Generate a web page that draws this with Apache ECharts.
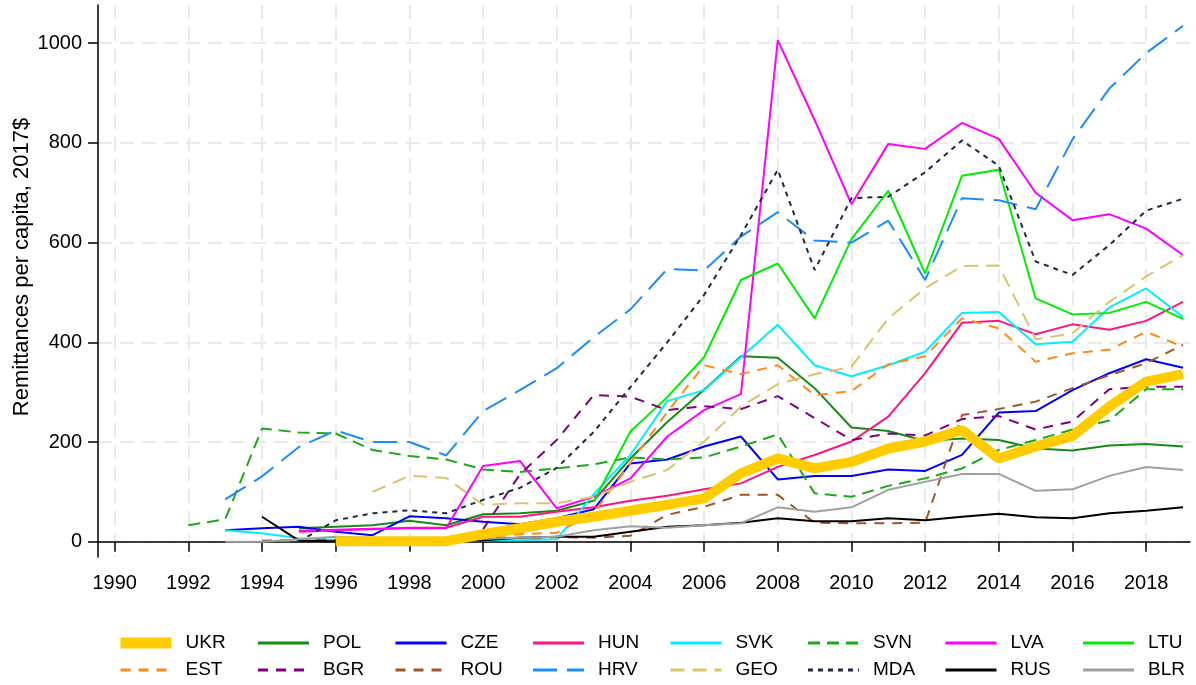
<!DOCTYPE html>
<html>
<head>
<meta charset="utf-8">
<title>Remittances per capita</title>
<script src="https://cdn.jsdelivr.net/npm/echarts@6.0.0/dist/echarts.min.js"></script>
<style>
	html, body { margin: 0; padding: 0; background: #fff; }
	#main { width: 1196px; height: 685px; }
</style>
</head>
<body>
<div id="main"></div>
<script>
// years 1992 .. 2019
var years = [1992, 1993, 1994, 1995, 1996, 1997, 1998, 1999, 2000, 2001, 2002, 2003, 2004, 2005,
	2006, 2007, 2008, 2009, 2010, 2011, 2012, 2013, 2014, 2015, 2016, 2017, 2018, 2019];

var xTicks = [1990, 1992, 1994, 1996, 1998, 2000, 2002, 2004, 2006, 2008, 2010, 2012, 2014, 2016, 2018];
var yTicks = [0, 200, 400, 600, 800, 1000];

var ukr = [null, null, null, null, 1, 1, 1, 1, 15, 27, 40, 50, 62, 74, 87, 137, 167, 147, 160, 187, 201, 224, 167, 191, 212, 271, 321, 336];
var pol = [null, null, null, 27, 30, 33, 42, 33, 55, 57, 62, 82, 167, 240, 305, 372, 369, 308, 229, 222, 202, 207, 204, 187, 183, 193, 196, 191];
var cze = [null, 23, 27, 30, 20, 13, 51, 47, 40, 35, 47, 65, 157, 165, 191, 211, 125, 132, 132, 145, 142, 174, 259, 262, 304, 338, 366, 349];
var hun = [null, null, null, 20, 23, 25, 28, 28, 50, 50, 60, 69, 82, 92, 105, 117, 150, 174, 201, 251, 338, 439, 443, 416, 436, 425, 443, 481];
var svk = [null, 23, 17, 7, 4, 3, 3, 3, 3, 3, 5, 95, 174, 282, 304, 370, 435, 354, 332, 354, 381, 459, 461, 396, 401, 470, 508, 451];
var svn = [33, 45, 227, 219, 217, 184, 172, 165, 145, 140, 147, 155, 169, 165, 169, 191, 215, 97, 90, 112, 127, 147, 184, 204, 225, 243, 306, 306];
var lva = [null, null, null, 22, 24, 26, 27, 27, 152, 162, 67, 90, 127, 211, 264, 296, 1006, 846, 677, 798, 788, 840, 808, 700, 645, 657, 628, 575];
var ltu = [null, null, null, null, null, null, null, null, null, null, null, 80, 221, 290, 370, 525, 558, 448, 607, 704, 538, 734, 746, 488, 456, 459, 481, 447];
var est = [null, null, 2, 2, 3, 4, 5, 6, 8, 15, 18, 57, 158, 260, 354, 336, 354, 294, 302, 356, 372, 448, 428, 361, 378, 385, 421, 391];
var bgr = [null, null, null, null, null, null, null, null, 25, 135, 204, 294, 291, 264, 272, 266, 292, 248, 204, 217, 213, 246, 252, 225, 241, 306, 311, 311];
var rou = [null, null, 2, 3, 4, 5, 6, 6, 7, 8, 9, 8, 12, 54, 70, 94, 94, 38, 37, 37, 38, 254, 266, 281, 308, 334, 358, 395];
var hrv = [null, 85, 131, 190, 223, 200, 200, 173, 262, 304, 348, 410, 466, 547, 544, 612, 661, 604, 600, 644, 525, 689, 685, 667, 807, 909, 980, 1035];
var geo = [null, null, null, null, null, 100, 132, 128, 74, 77, 77, 90, 120, 144, 201, 271, 316, 336, 351, 448, 508, 553, 554, 406, 418, 481, 532, 575];
var mda = [null, null, null, 0, 43, 57, 63, 57, 84, 108, 148, 220, 310, 400, 495, 615, 746, 545, 689, 692, 741, 805, 754, 562, 535, 595, 664, 688];
var rus = [null, null, 50, 2, 1, 2, 3, 3, 3, 8, 10, 10, 20, 30, 33, 38, 47, 41, 41, 47, 43, 50, 56, 49, 47, 57, 62, 69];
var blr = [null, 0, 0, 5, 10, 8, 6, 5, 6, 8, 10, 23, 31, 28, 33, 37, 69, 60, 69, 104, 120, 136, 136, 102, 105, 132, 150, 144];

var font = 'Liberation Sans, Arial, sans-serif';

function line(name, vals, color, width, dash, z) {
	return {
		name: name,
		type: 'line',
		data: years.map(function(y, i) {
			return [y, vals[i]];
		}),
		symbol: 'none',
		silent: true,
		z: z || 2,
		lineStyle: {
			color: color,
			width: width,
			type: dash || 'solid'
		},
		itemStyle: {
			color: color
		}
	};
}

var myChart = echarts.init(document.getElementById('main'));

var option = {
	animation: false,
	backgroundColor: '#fff',
	grid: {
		left: 98,
		right: 6,
		top: 5,
		bottom: 128,
		outerBoundsMode: 'none'
	},
	legend: {
		left: 119,
		top: 632,
		width: 1100,
		padding: 0,
		itemWidth: 51,
		itemHeight: 11,
		itemGap: 5,
		selectedMode: false,
		// hide the little circle that line legends draw
		itemStyle: {
			opacity: 0
		},
		lineStyle: {
			width: 3
		},
		textStyle: {
			fontFamily: font,
			fontSize: 19,
			color: '#000',
			width: 66,
			lineHeight: 22,
			padding: [0, 0, 0, 9]
		},
		data: [{ name: 'UKR', icon: 'rect', itemStyle: { opacity: 1 } }, 'POL', 'CZE', 'HUN', 'SVK', 'SVN', 'LVA', 'LTU',
			'EST', 'BGR', 'ROU', 'HRV', 'GEO', 'MDA', 'RUS', 'BLR']
	},
	xAxis: {
		type: 'value',
		min: 1989.547,
		max: 2019.19,
		axisLine: { lineStyle: { color: '#000', width: 1.5 } },
		axisTick: { customValues: xTicks, length: 10, lineStyle: { color: '#000', width: 1.5 } },
		axisLabel: {
			customValues: xTicks,
			margin: 16,
			fontFamily: font,
			fontSize: 20,
			color: '#000',
			formatter: function(v) { return String(v); }
		},
		splitLine: { show: true, lineStyle: { color: '#EAEAEA', width: 2, type: [14, 8] } }
	},
	yAxis: {
		type: 'value',
		min: -30.7,
		max: 1076.6,
		name: 'Remittances per capita, 2017$',
		nameLocation: 'middle',
		nameGap: 65,
		nameMoveOverlap: false,
		nameTextStyle: { fontFamily: font, fontSize: 22, color: '#000', padding: [0, 0, 0, 28] },
		axisLine: { show: true, lineStyle: { color: '#000', width: 1.5 } },
		axisTick: { show: true, customValues: yTicks, length: 10, lineStyle: { color: '#000', width: 1.5 } },
		axisLabel: {
			customValues: yTicks,
			margin: 16,
			fontFamily: font,
			fontSize: 20,
			color: '#000',
			formatter: function(v) { return String(v); }
		},
		splitLine: { show: true, lineStyle: { color: '#EAEAEA', width: 2, type: [14, 8] } }
	},
	series: [
		line('UKR', ukr, '#FFCC00', 10, 'solid', 5),
		line('POL', pol, '#178A17', 2),
		line('CZE', cze, '#0000FF', 2),
		line('HUN', hun, '#FF1480', 2),
		line('SVK', svk, '#00F0FF', 2),
		line('SVN', svn, '#1AAA1A', 2, [12, 7]),
		line('LVA', lva, '#FF00FF', 2),
		line('LTU', ltu, '#00EE00', 2),
		line('EST', est, '#FF8A1A', 2, [10, 8]),
		line('BGR', bgr, '#800080', 2, [10, 8]),
		line('ROU', rou, '#A0562D', 2, [10, 8]),
		line('HRV', hrv, '#1E8CFF', 2, [24, 10]),
		line('GEO', geo, '#DCC36E', 2, [14, 8]),
		line('MDA', mda, '#1F2A48', 2, [5, 5]),
		line('RUS', rus, '#000000', 2),
		line('BLR', blr, '#A0A0A0', 2)
	]
};

myChart.setOption(option);
</script>
</body>
</html>
